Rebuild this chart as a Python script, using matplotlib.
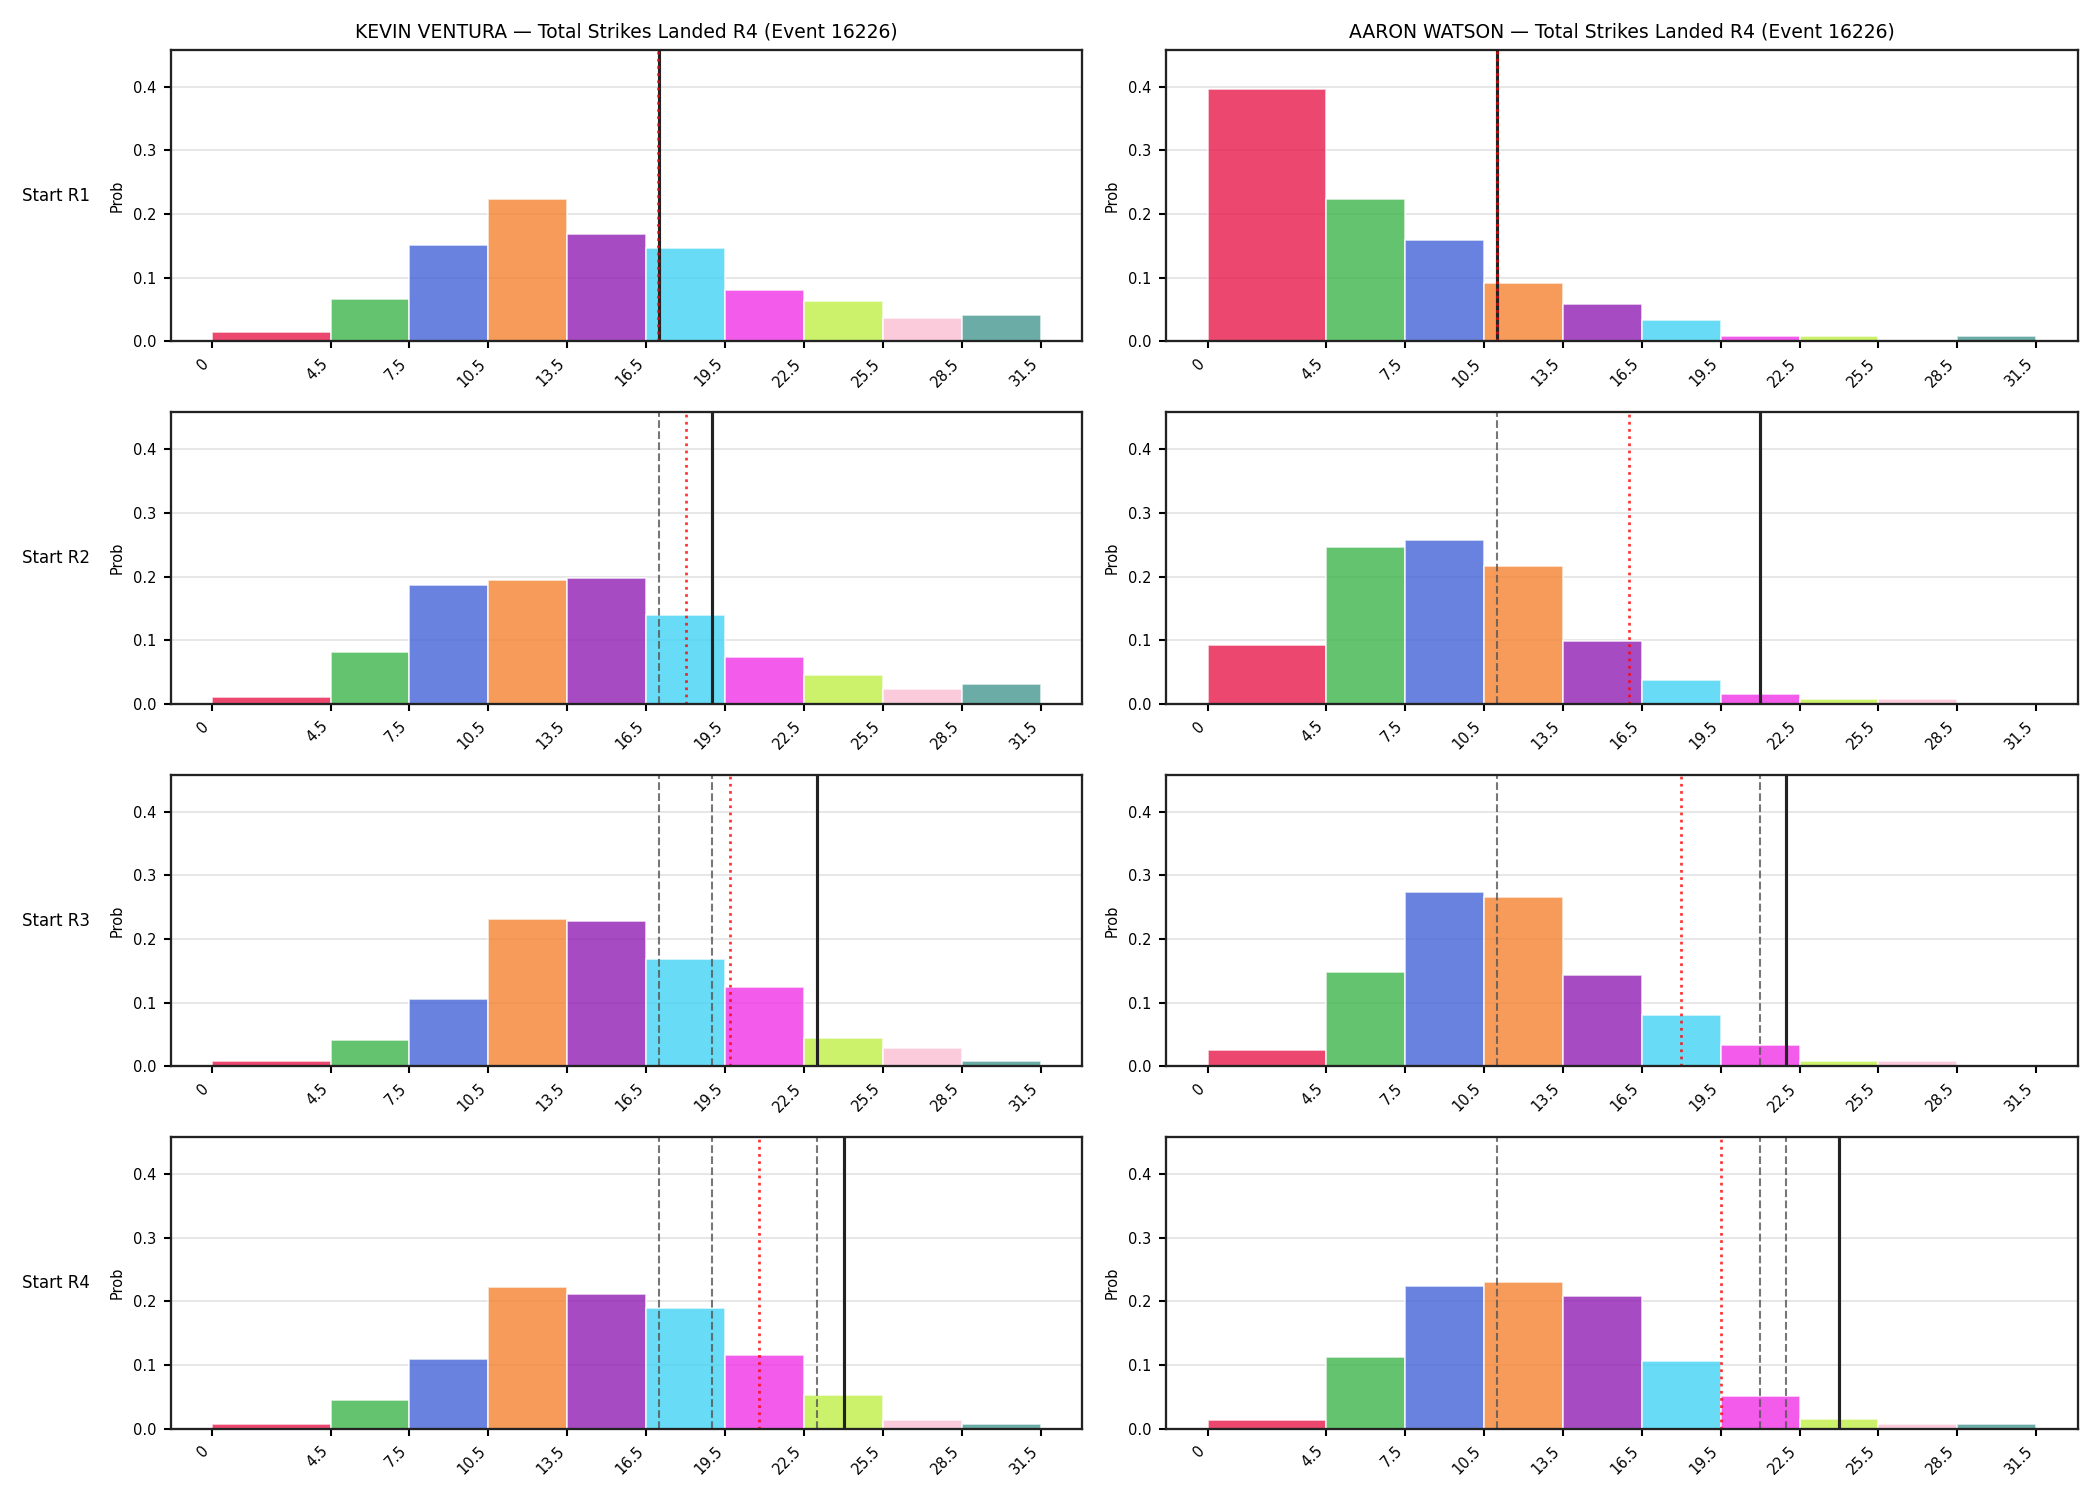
import matplotlib
matplotlib.use("Agg")
import matplotlib.pyplot as plt
import numpy as np

# Bin edges and tick labels
edges = [0, 4.5, 7.5, 10.5, 13.5, 16.5, 19.5, 22.5, 25.5, 28.5, 31.5]
tick_labels = ["0", "4.5", "7.5", "10.5", "13.5", "16.5", "19.5", "22.5", "25.5", "28.5", "31.5"]
row_labels = ["Start R1", "Start R2", "Start R3", "Start R4"]
fighters = ["KEVIN VENTURA", "AARON WATSON"]
title_suffix = " \u2014 Total Strikes Landed R4 (Event 16226)"

bin_colors = ["#e6194b", "#3cb44b", "#4363d8", "#f58231", "#911eb4",
              "#42d4f4", "#f032e6", "#bfef45", "#fabed4", "#469990"]

# Kevin Ventura probabilities per starting round
ventura_r1 = [0.014, 0.067, 0.151, 0.223, 0.168, 0.146, 0.080, 0.063, 0.036, 0.041]
ventura_r2 = [0.011, 0.082, 0.186, 0.194, 0.197, 0.140, 0.074, 0.045, 0.023, 0.031]
ventura_r3 = [0.009, 0.042, 0.105, 0.232, 0.228, 0.168, 0.124, 0.044, 0.028, 0.009]
ventura_r4 = [0.008, 0.045, 0.110, 0.223, 0.212, 0.189, 0.116, 0.053, 0.014, 0.008]

# Aaron Watson probabilities per starting round
watson_r1 = [0.397, 0.223, 0.159, 0.091, 0.058, 0.034, 0.009, 0.009, 0.0, 0.009]
watson_r2 = [0.093, 0.247, 0.258, 0.217, 0.099, 0.037, 0.016, 0.008, 0.008, 0.0]
watson_r3 = [0.026, 0.148, 0.274, 0.266, 0.143, 0.081, 0.034, 0.009, 0.009, 0.0]
watson_r4 = [0.014, 0.113, 0.225, 0.231, 0.208, 0.107, 0.051, 0.015, 0.008, 0.008]

# Line values per round (black solid) and mean (red dotted)
ventura_lines = [17, 19, 23, 24]
ventura_means = [16.95, 18.0, 19.67, 20.77]
watson_lines = [11, 21, 22, 24]
watson_means = [11.0, 16.0, 18.0, 19.5]

data = {
    0: ([ventura_r1, ventura_r2, ventura_r3, ventura_r4], ventura_lines, ventura_means),
    1: ([watson_r1, watson_r2, watson_r3, watson_r4], watson_lines, watson_means),
}

fig, axes = plt.subplots(4, 2, figsize=(14, 10), dpi=150)
fig.subplots_adjust(left=0.0813, right=0.9894, top=0.9667, bottom=0.0475,
                    wspace=0.092, hspace=0.2436)

lefts = np.array(edges[:-1])
widths = np.diff(edges)

for col in range(2):
    probs_rows, lines, means = data[col]
    for row in range(4):
        ax = axes[row, col]
        ax.set_axisbelow(True)
        ax.bar(lefts, probs_rows[row], width=widths, align="edge",
               color=bin_colors, alpha=0.8, edgecolor="white", linewidth=0.8)
        for prev in lines[:row]:
            ax.axvline(prev, color="#555555", linestyle="--", linewidth=1.0, alpha=0.8)
        ax.axvline(lines[row], color="#222222", linestyle="-", linewidth=1.5)
        ax.axvline(means[row], color="red", linestyle=":", linewidth=1.3, alpha=0.8)
        ax.set_ylim(0, 0.458)
        ax.set_xticks(edges)
        ax.set_xticklabels(tick_labels, rotation=45, ha="right", fontsize=7)
        ax.tick_params(axis="y", labelsize=7)
        ax.tick_params(width=1.0)
        ax.grid(axis="y", color="#e3e3e3", linewidth=0.8)
        ax.set_ylabel("Prob", fontsize=7)
        for sp in ax.spines.values():
            sp.set_linewidth(1.1)
            sp.set_color("#222222")
        if row == 0:
            ax.set_title(fighters[col] + title_suffix, fontsize=9)
        if col == 0:
            ax.text(-0.0887, 0.5, row_labels[row], transform=ax.transAxes,
                    ha="right", va="center", fontsize=8)

fig.savefig("out.png", dpi=150)
